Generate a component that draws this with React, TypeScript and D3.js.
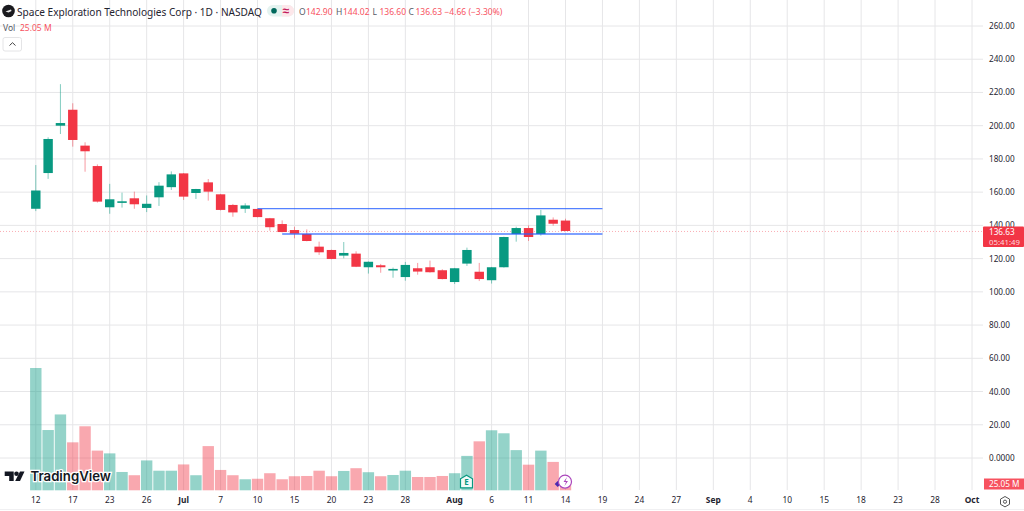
import * as React from "react";
import * as d3 from "d3";

const WIDTH = 1024;
const HEIGHT = 511;
const FONT = "'Noto Sans', sans-serif";
const UP = "#089981";
const DOWN = "#f23645";
const GRID = "#e6e6e8";
const TEXT = "#1f2430";

// daily candles
const opens = [150, 171.5, 200, 209.6, 188, 175.7, 150.9, 153.9, 156.3, 150.5, 156.9, 163, 171.3, 159.5, 165.9, 158.7, 152.3, 150, 149.9, 144.3, 140.8, 137.2, 134.8, 127.2, 125.2, 121.8, 123, 114.8, 116, 113.2, 108.9, 114.2, 114.8, 113, 105.9, 117, 112.1, 107, 114.8, 134.8, 138.4, 134.8, 143.4, 142.9];
const highs = [176.3, 193, 225, 213.5, 190, 176.7, 165, 159.7, 160.3, 158, 166, 172.5, 171.5, 162, 167.9, 158.9, 152.9, 153.3, 150.1, 144.5, 143, 139.2, 137.6, 130.2, 125.4, 130, 124.4, 118.3, 116.8, 114.6, 118, 117.4, 118.8, 113.6, 114.4, 126.6, 117.4, 115, 133.2, 139.2, 140, 149.3, 144.8, 144.02];
const lows = [148.6, 168, 195, 187.4, 172.3, 153.7, 147, 150.7, 150, 148, 151.7, 161.3, 155.3, 155.9, 154.9, 149, 145.2, 147.5, 144.8, 136.8, 135.8, 132.2, 130.4, 122.2, 119.6, 120.2, 114.9, 111, 111.5, 108.5, 106.7, 110.3, 111.6, 107.5, 104.7, 115.6, 106.5, 105, 114.6, 130.2, 130.6, 133.8, 139.8, 136.6];
const closes = [161, 192, 201.6, 191.4, 184.6, 154.3, 155.7, 154.5, 152.7, 153, 163.9, 170.7, 157.3, 161.9, 160.3, 149.3, 147.8, 152, 145, 138.9, 136, 135, 130.6, 123.8, 119.8, 123.4, 115.1, 118.1, 114.8, 113.8, 116.2, 112.2, 111.8, 107.7, 114.2, 125.2, 107.7, 114.8, 133, 138.4, 133, 146, 141, 136.63];
const volumes = [487, 240, 302, 191, 255, 158, 147, 73, 60, 119, 78, 78, 103, 60, 176, 81, 60, 44, 46, 68, 44, 56, 57, 78, 56, 77, 88, 72, 56, 61, 78, 53, 53, 57, 68, 137, 195, 239, 227, 160, 102, 158, 113, 25.05];

const priceTicks = [260, 240, 220, 200, 180, 160, 140, 120, 100, 80, 60, 40, 20, 0];
const dateTicks = ["12", "17", "23", "26", "Jul", "7", "10", "15", "20", "23", "28", "Aug", "6", "11", "14", "19", "24", "27", "Sep", "4", "10", "15", "18", "23", "28", "Oct"];
const dateIndex = [0, 3, 6, 9, 12, 15, 18, 21, 24, 27, 30, 34, 37, 40, 43, 46, 49, 52, 55, 58, 61, 64, 67, 70, 73, 76];
const levels = [
  { value: 150.1, from: 18 },
  { value: 134.8, from: 20 },
];
const lastClose = 136.63;
const legendValues = [
  ["O", "142.90"],
  ["H", "144.02"],
  ["L", "136.60"],
  ["C", "136.63"],
];

const x = d3.scaleLinear().domain([0, 76]).range([35.8, 972]);
const y = d3.scaleLinear().domain([0, 260]).range([458, 26]);
const yVol = d3.scaleLinear().domain([0, 487]).range([490.3, 368]);
const candles = d3.range(opens.length);

export default function App() {
  const axisX = 983;
  const bodyW = 9.4;
  const volW = 11.4;
  const lastY = y(lastClose);
  const lastVolY = yVol(25.05);
  const legendX = [299, 336, 372.5, 408.5];

  return (
    <svg
      width={WIDTH}
      height={HEIGHT}
      viewBox={`0 0 ${WIDTH} ${HEIGHT}`}
      style={{ position: "absolute", left: 0, top: 0, background: "#fff" }}
      fontFamily={FONT}
    >
      {/* grid */}
      {priceTicks.map((t) => (
        <line key={t} x1={0} x2={axisX} y1={y(t)} y2={y(t)} stroke={GRID} strokeWidth={1} />
      ))}
      {dateIndex.map((i) => (
        <line key={i} x1={x(i)} x2={x(i)} y1={0} y2={490} stroke={GRID} strokeWidth={1} />
      ))}
      <line x1={0} x2={WIDTH} y1={509.5} y2={509.5} stroke="#f0f0f2" />

      {/* volume */}
      {candles.map((i) => (
        <rect
          key={i}
          x={x(i) - volW / 2}
          y={yVol(volumes[i])}
          width={volW}
          height={yVol(0) - yVol(volumes[i])}
          fill={closes[i] >= opens[i] ? UP : DOWN}
          fillOpacity={0.43}
        />
      ))}

      {/* last price line */}
      <line x1={0} x2={axisX} y1={lastY + 0.5} y2={lastY + 0.5} stroke={DOWN} strokeOpacity={0.4} strokeDasharray="1 2" />

      {/* candles */}
      {candles.map((i) => {
        const color = closes[i] >= opens[i] ? UP : DOWN;
        const top = y(Math.max(opens[i], closes[i]));
        const bottom = y(Math.min(opens[i], closes[i]));
        return (
          <g key={i}>
            <line x1={x(i)} x2={x(i)} y1={y(highs[i])} y2={y(lows[i])} stroke={color} strokeOpacity={0.5} strokeWidth={1} />
            <rect x={x(i) - bodyW / 2} y={top} width={bodyW} height={Math.max(bottom - top, 1.6)} fill={color} />
          </g>
        );
      })}

      {/* drawn levels */}
      {levels.map((l) => (
        <line key={l.value} x1={x(l.from)} x2={x(46)} y1={y(l.value)} y2={y(l.value)} stroke="#2962ff" strokeOpacity={0.8} strokeWidth={1.4} />
      ))}

      {/* price axis */}
      {priceTicks.map((t) => (
        <text key={t} x={989} y={y(t) + 3} fontSize={8.2} fill={TEXT}>
          {t === 0 ? "0.0000" : t.toFixed(2)}
        </text>
      ))}
      <rect x={axisX} y={lastY - 4.5} width={41} height={20.5} fill={DOWN} rx={1} />
      <text x={989} y={lastY + 3.6} fontSize={8.2} fill="#fff">
        136.63
      </text>
      <text x={989} y={lastY + 13.6} fontSize={7.8} fill="#fff" fillOpacity={0.8}>
        05:41:49
      </text>
      <rect x={984} y={lastVolY - 5.5} width={40} height={11} fill="#f7525f" />
      <text x={989} y={lastVolY + 3} fontSize={8.2} fill="#fff">
        25.05 M
      </text>

      {/* time axis */}
      {dateTicks.map((d, k) => (
        <text
          key={k}
          x={x(dateIndex[k])}
          y={503}
          textAnchor="middle"
          fontSize={8.4}
          fontWeight={d === "Jul" || d === "Aug" || d === "Sep" || d === "Oct" ? 700 : 400}
          fill={TEXT}
        >
          {d}
        </text>
      ))}
      <path d="M1005 496.500l4.500 2.600v5.200l-4.500 2.600-4.500-2.600v-5.200z" fill="none" stroke="#555" strokeWidth={1} />
      <circle cx={1005} cy={501.700} r={1.600} fill="none" stroke="#555" strokeWidth={1} />

      {/* legend */}
      <circle cx={8.500} cy={11} r={6.300} fill="#1a1a1e" />
      <path d="M5.500 11.500l5.500-2 .5 1.500-3 1.500z" fill="#e8e8e8" />
      <text x={17} y={15.500} fontSize={10.100} fill={TEXT}>
        Space Exploration Technologies Corp · 1D · NASDAQ
      </text>
      <rect x={267} y={5} width={27} height={11.500} rx={5.700} fill="#e4f3f0" />
      <path d="M282 5h6.300a5.700 5.700 0 0 1 0 11.500H282z" fill="#fde7ea" />
      <circle cx={274} cy={10.700} r={2.800} fill="#00695c" />
      <text x={286} y={14.500} textAnchor="middle" fontSize={12} fontWeight={700} fill="#c2185b">
        ≈
      </text>
      {legendValues.map(([k, v], i) => (
        <g key={k} fontSize={8.500}>
          <text x={legendX[i]} y={14.500} fill="#555a66">
            {k}
          </text>
          <text x={legendX[i] + 7} y={14.500} fill="#f7525f">
            {v}
          </text>
        </g>
      ))}
      <text x={444.500} y={14.500} fontSize={8.500} fill="#f7525f">
        −4.66 (−3.30%)
      </text>
      <text x={3} y={30.500} fontSize={8.500} fill="#555a66">
        Vol
      </text>
      <text x={20} y={30.500} fontSize={8.500} fill="#f7525f">
        25.05 M
      </text>
      <rect x={3} y={37.500} width={18.500} height={13.500} rx={2} fill="#fff" stroke="#e4e4e6" />
      <path d="M9.500 45.500l3-2.800 3 2.800" fill="none" stroke="#444" strokeWidth={1} />

      {/* watermark */}
      <g fill="#131722">
        <path d="M4.700 471.500h9v9.500h-4.500v-5h-4.500z" />
        <circle cx={16.500} cy={473.800} r={2.300} />
        <path d="M20 471.500h4.500l-4.500 9.500h-4.800z" />
      </g>
      <text x={30.500} y={481} fontSize={13.200} fontWeight={600} fill="#131722" stroke="#fff" strokeWidth={2.500} paintOrder="stroke" fontFamily="Inter, sans-serif">
        TradingView
      </text>

      {/* events */}
      <path d="M460.500 487.800v-9l6-3.500 6 3.500v9z" fill="#f2fbf9" stroke={UP} strokeWidth={1.200} />
      <text x={466.500} y={485} textAnchor="middle" fontSize={8} fontWeight={700} fill={UP}>
        E
      </text>
      <path d="M557.700 481l3 3-3 3-3-3z" fill="#4a2bb0" />
      <circle cx={565} cy={481.700} r={6.500} fill="#fff" stroke="#ab47bc" strokeWidth={1.200} />
      <path d="M567 477l-3.500 5h2.500l-1.500 4 3.500-5h-2.500z" fill="#ab47bc" />
    </svg>
  );
}
